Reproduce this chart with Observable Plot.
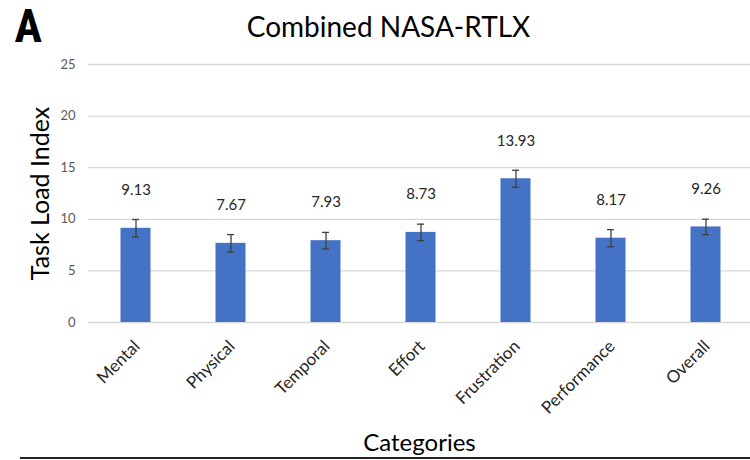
<!DOCTYPE html>
<html>
<head>
<meta charset="utf-8">
<script src="https://cdn.jsdelivr.net/npm/d3@7"></script>
<script src="https://cdn.jsdelivr.net/npm/@observablehq/plot@0.6"></script>
<style>
  html, body { margin: 0; padding: 0; background: #fff; }
  #wrap { position: relative; width: 750px; height: 460px; overflow: hidden; }
  #rule { position: absolute; left: 20px; top: 457px; width: 730px; height: 2px; background: #222; }
</style>
</head>
<body>
<div id="wrap"><div id="chart"></div><div id="rule"></div></div>
<script>
const categories = ["Mental", "Physical", "Temporal", "Effort", "Frustration", "Performance", "Overall"];
const means = [9.13, 7.67, 7.93, 8.73, 13.93, 8.17, 9.26];
const errors = [0.85, 0.85, 0.8, 0.8, 0.82, 0.83, 0.75];
const yTicks = [0, 5, 10, 15, 20, 25];
const title = "Combined NASA-RTLX";
const panel = "A";
const yLabel = "Task Load Index";
const xLabel = "Categories";

const data = categories.map((c, i) => ({cat: c, mean: means[i], err: errors[i]}));
const font = "Lato, 'Open Sans', sans-serif";

const chart = Plot.plot({
  width: 750,
  height: 460,
  marginTop: 64,
  marginBottom: 138,
  marginLeft: 88,
  marginRight: 0,
  style: {fontFamily: font, background: "#fff"},
  x: {type: "band", domain: categories, range: [87.5, 752.5], padding: 0, axis: null},
  y: {domain: [0, 25], axis: null},
  marks: [
    Plot.gridY(yTicks, {stroke: "#d9d9d9", strokeOpacity: 1, strokeWidth: 1.3}),
    Plot.axisY(yTicks, {tickSize: 0, tickPadding: 13, fontSize: 13, color: "#595959", label: null}),
    Plot.barY(data, {x: "cat", y: "mean", fill: "#4472C4", insetLeft: 32.5, insetRight: 32.5}),
    Plot.ruleX(data, {x: "cat", y1: d => d.mean - d.err, y2: d => d.mean + d.err, stroke: "#404040", strokeWidth: 1.3}),
    Plot.tickY(data, {x: "cat", y: d => d.mean - d.err, stroke: "#404040", strokeWidth: 1.3, insetLeft: 44, insetRight: 44}),
    Plot.tickY(data, {x: "cat", y: d => d.mean + d.err, stroke: "#404040", strokeWidth: 1.3, insetLeft: 44, insetRight: 44}),
    Plot.text(data, {x: "cat", y: "mean", text: d => d.mean.toFixed(2), dy: -38, fontSize: 15, fill: "#262626", lineAnchor: "middle"}),
    Plot.text(categories, {x: d => d, frameAnchor: "bottom", rotate: -45, textAnchor: "end", lineAnchor: "middle", dx: 1, dy: 21, fontSize: 17, fill: "#262626"}),
    Plot.text([xLabel], {frameAnchor: "bottom", textAnchor: "middle", lineAnchor: "middle", dy: 121, fontSize: 24, fill: "#000"}),
    Plot.text([yLabel], {frameAnchor: "left", rotate: -90, textAnchor: "middle", lineAnchor: "middle", dx: -48, fontSize: 25, fill: "#000"}),
    Plot.text([title], {frameAnchor: "top", textAnchor: "middle", lineAnchor: "middle", dx: -31, dy: -36, fontSize: 28, fill: "#000"}),
    Plot.text([panel], {frameAnchor: "top-left", textAnchor: "start", lineAnchor: "middle", dx: -74, dy: -37, fontSize: 46, fontWeight: "bold", fontFamily: "'Liberation Sans Narrow', 'Roboto Condensed', 'Liberation Sans', sans-serif", fill: "#000"})
  ]
});
document.getElementById("chart").appendChild(chart);
</script>
</body>
</html>
